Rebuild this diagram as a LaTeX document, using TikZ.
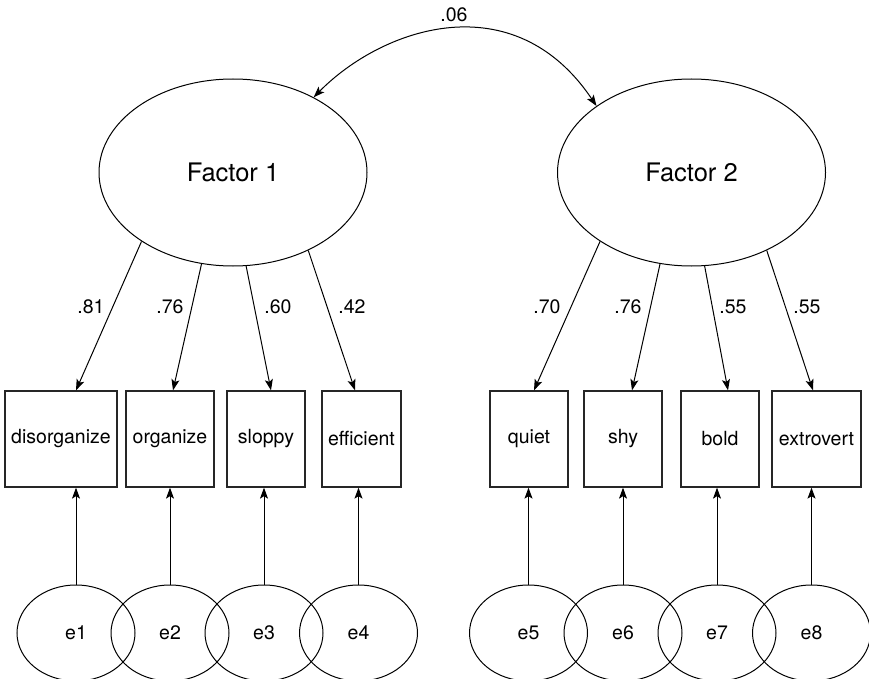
\documentclass[tikz,border=0pt]{standalone}
\usepackage{fontspec}
\setmainfont{TeX Gyre Heros}
\usetikzlibrary{arrows.meta,shapes.geometric}
\begin{document}
\begin{tikzpicture}[x=1pt,y=-1pt,
  latent/.style={draw, ellipse, minimum width=268pt, minimum height=187pt,
    inner sep=0pt, line width=1pt, font=\fontsize{25.5}{30}\selectfont},
  errvar/.style={draw, ellipse, minimum width=118pt, minimum height=96pt,
    inner sep=0pt, line width=1pt, font=\fontsize{19.5}{23}\selectfont},
  obsbox/.style={draw=black!85, rectangle, minimum height=96pt, inner sep=0pt,
    line width=1.3pt, font=\fontsize{19.5}{23}\selectfont},
  coef/.style={font=\fontsize{19.5}{23}\selectfont, inner sep=0pt},
  tip/.style={-{Stealth[length=11pt,width=8pt,inset=2.5pt]}, line width=1pt},
  cov/.style={{Stealth[length=11pt,width=8pt,inset=2.5pt]}-{Stealth[length=11pt,width=8pt,inset=2.5pt]}, line width=1pt}
]
\useasboundingbox (0,0) rectangle (869,679);

% latent factors
\node[latent] (F1) at (233,172.5) {Factor 1};
\node[latent] (F2) at (691.5,172.5) {Factor 2};

% observed indicators
\node[obsbox, minimum width=112pt] (v1) at (61,439)    {disorganize};
\node[obsbox, minimum width=88pt]  (v2) at (170,439)   {organize};
\node[obsbox, minimum width=78pt]  (v3) at (266,439)   {sloppy};
\node[obsbox, minimum width=79pt]  (v4) at (361.5,439) {efficient};
\node[obsbox, minimum width=78pt]  (v5) at (529,439)   {quiet};
\node[obsbox, minimum width=78pt]  (v6) at (623,439)   {shy};
\node[obsbox, minimum width=78pt]  (v7) at (720,439)   {bold};
\node[obsbox, minimum width=89pt]  (v8) at (816.5,439) {extrovert};

% error terms
\node[errvar] (e1) at (76,633)    {e1};
\node[errvar] (e2) at (170,633)   {e2};
\node[errvar] (e3) at (264,633)   {e3};
\node[errvar] (e4) at (358.5,633) {e4};
\node[errvar] (e5) at (528.5,633) {e5};
\node[errvar] (e6) at (623,633)   {e6};
\node[errvar] (e7) at (717,633)   {e7};
\node[errvar] (e8) at (811.5,633) {e8};

% factor covariance
\draw[cov] (F1.43) .. controls (383,27) and (514,-17) .. (F2.145)
  node[coef] at (454,15) {.06};

% factor loadings
\draw[tip] (F1.217) -- ([xshift=15pt]v1.north) node[coef] at (91,307) {.81};
\draw[tip] (F1.251) -- ([xshift=3pt]v2.north)  node[coef] at (170,307) {.76};
\draw[tip] (F1.278) -- ([xshift=5pt]v3.north)  node[coef] at (278,307) {.60};
\draw[tip] (F1.314) -- ([xshift=-6.5pt]v4.north) node[coef] at (352,307) {.42};
\draw[tip] (F2.217) -- ([xshift=5pt]v5.north)  node[coef] at (547,307) {.70};
\draw[tip] (F2.251) -- ([xshift=9pt]v6.north)  node[coef] at (628,307) {.76};
\draw[tip] (F2.278) -- ([xshift=8pt]v7.north)  node[coef] at (733,307) {.55};
\draw[tip] (F2.314) -- ([xshift=-3.5pt]v8.north) node[coef] at (807,307) {.55};

% error paths
\foreach \i in {1,...,8}
  \draw[tip] (e\i.north) -- (e\i |- v\i.south);
\end{tikzpicture}
\end{document}
